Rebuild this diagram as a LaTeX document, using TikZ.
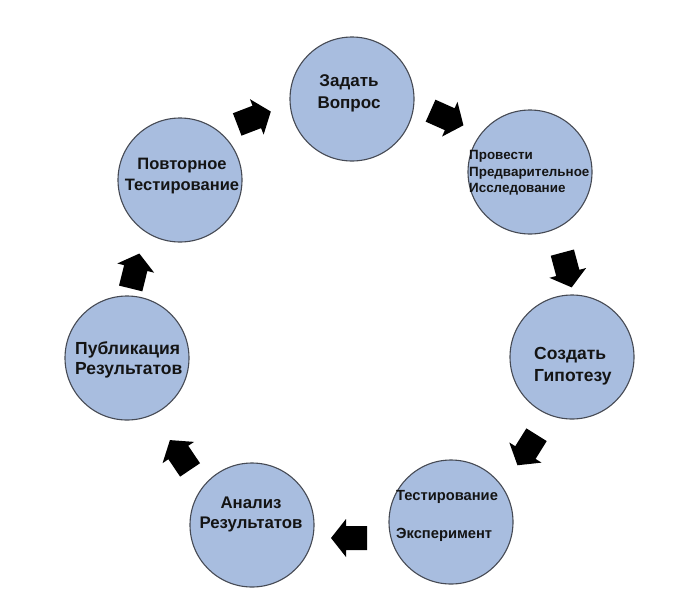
\documentclass[tikz,border=0pt]{standalone}
\usepackage{fontspec}
\setmainfont{Liberation Sans}
\definecolor{circfill}{RGB}{168,189,223}
\definecolor{circline}{RGB}{70,74,84}
\definecolor{txt}{RGB}{20,20,20}
\tikzset{
  stage/.style={circle, draw=circline, line width=1.1pt, fill=circfill, inner sep=0pt, minimum size=124pt},
  lbl/.style={text=txt, font=\bfseries\fontsize{16.5}{21}\selectfont, inner sep=0pt},
  blockarrow/.pic={\fill[black] (-18,-12) -- (3,-12) -- (3,-19) -- (18,0) -- (3,19) -- (3,12) -- (-18,12) -- cycle;}
}
\begin{document}
\begin{tikzpicture}[x=1pt,y=-1pt]
\useasboundingbox[fill=white] (0,0) rectangle (700,613);
% circles
\node[stage] (ask) at (352,99) {};
\node[stage] (research) at (530,172) {};
\node[stage] (hypo) at (572,357) {};
\node[stage] (test) at (451,522) {};
\node[stage] (analyze) at (252,525) {};
\node[stage] (publish) at (127,358) {};
\node[stage] (retest) at (180,180) {};
% labels
\node[lbl, align=center, font=\bfseries\fontsize{17}{22}\selectfont] (tAsk) at (349,93) {Задать\\Вопрос};
\node[lbl, align=left, anchor=west, font=\bfseries\fontsize{13.4}{16.5}\selectfont] (tResearch) at (469,173) {Провести\\Предварительное\\Исследование};
\node[lbl, align=left, anchor=west, font=\bfseries\fontsize{17.5}{22}\selectfont] (tHypo) at (534,366) {Создать\\Гипотезу};
\node[lbl, align=left, anchor=west, font=\bfseries\fontsize{14.7}{38}\selectfont] (tTest) at (396,516) {Тестирование\\Эксперимент};
\node[lbl, align=center, font=\bfseries\fontsize{16.8}{20}\selectfont] (tAnalyze) at (251,514) {Анализ\\Результатов};
\node[lbl, align=left, anchor=west, font=\bfseries\fontsize{17.5}{20}\selectfont] (tPublish) at (75,360) {Публикация\\Результатов};
\node[lbl, align=center] (tRetest) at (182,176) {Повторное\\Тестирование};
% block arrows between stages (clockwise cycle)
\pic[rotate=21] (aRA) at (254,118) {blockarrow};
\pic[rotate=-24] (aAR) at (447,118) {blockarrow};
\pic[rotate=-75] (aRH) at (567,270) {blockarrow};
\pic[rotate=-122] (aHT) at (527,450) {blockarrow};
\pic[rotate=180] (aTA) at (349,538) {blockarrow};
\pic[rotate=124] (aAP) at (180,455) {blockarrow};
\pic[rotate=76] (aPR) at (135,271) {blockarrow};
\end{tikzpicture}
\end{document}
